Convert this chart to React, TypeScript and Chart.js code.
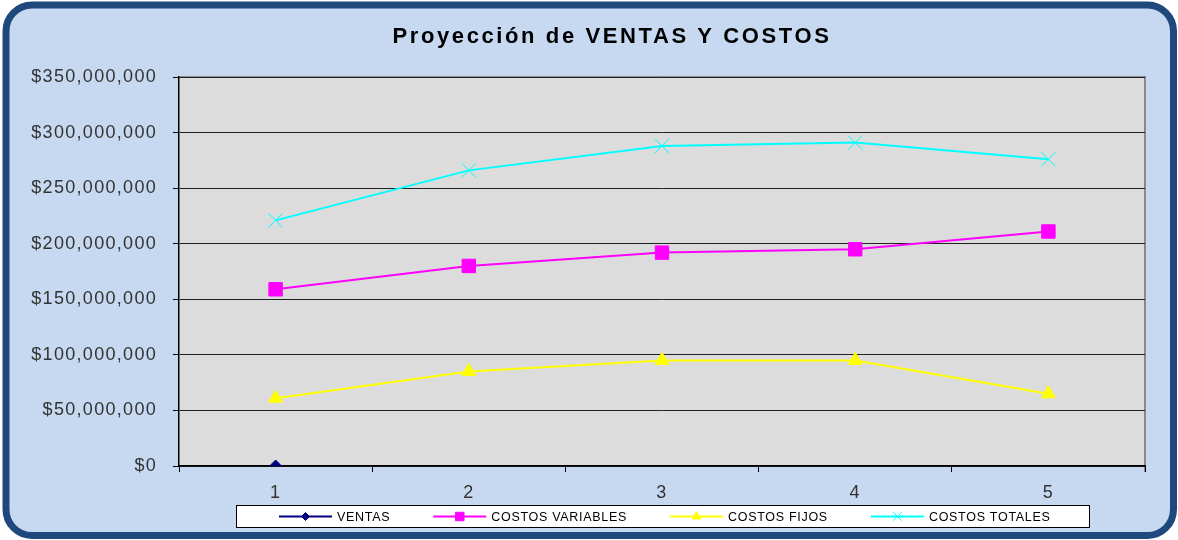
import React, { useEffect, useRef } from "react";
import { Chart, registerables } from "chart.js";
import { drawPoint } from "chart.js/helpers";

Chart.register(...registerables);

const TITLE = "Proyección de VENTAS Y COSTOS";
const CATEGORIES = ["1", "2", "3", "4", "5"];
const VENTAS = [0, null, null, null, null];
const COSTOS_VARIABLES = [159000000, 180000000, 192000000, 195000000, 211000000];
const COSTOS_FIJOS = [61000000, 85000000, 95000000, 95000000, 65000000];
const COSTOS_TOTALES = [221000000, 266000000, 288000000, 291000000, 276000000];
const Y_MIN = 0;
const Y_MAX = 350000000;
const Y_STEP = 50000000;

const FONT = '"Liberation Sans", Arial, sans-serif';

const framePlugin = {
  id: "frame",
  beforeDraw(chart: any) {
    const ctx = chart.ctx;
    const W = chart.width;
    const H = chart.height;
    ctx.save();
    ctx.fillStyle = "#ffffff";
    ctx.fillRect(0, 0, W, H);
    const l = 6, t = 5, r = W - 4.5, b = H - 4.5, rad = 26;
    ctx.beginPath();
    ctx.moveTo(l + rad, t);
    ctx.lineTo(r - rad, t);
    ctx.arcTo(r, t, r, t + rad, rad);
    ctx.lineTo(r, b - rad);
    ctx.arcTo(r, b, r - rad, b, rad);
    ctx.lineTo(l + rad, b);
    ctx.arcTo(l, b, l, b - rad, rad);
    ctx.lineTo(l, t + rad);
    ctx.arcTo(l, t, l + rad, t, rad);
    ctx.closePath();
    ctx.fillStyle = "#C6D9F0";
    ctx.fill();
    ctx.lineWidth = 7;
    ctx.strokeStyle = "#1F497D";
    ctx.stroke();

    // plot area
    const a = chart.chartArea;
    ctx.fillStyle = "#DCDCDC";
    ctx.fillRect(a.left, a.top, a.right - a.left, a.bottom - a.top);
    ctx.strokeStyle = "#8A8A8A";
    ctx.lineWidth = 2;
    ctx.beginPath();
    ctx.moveTo(a.left, a.top);
    ctx.lineTo(a.right, a.top);
    ctx.lineTo(a.right, a.bottom + 6);
    ctx.stroke();

    // title
    ctx.fillStyle = "#000000";
    ctx.font = `bold 22px ${FONT}`;
    ctx.letterSpacing = "2.6px";
    ctx.textAlign = "center";
    ctx.textBaseline = "middle";
    ctx.fillText(TITLE, 612, 37);
    ctx.restore();
    // wider spacing for the axis tick labels, like the reference rendering
    ctx.letterSpacing = "1.3px";
  },
  afterDraw(chart: any) {
    const ctx = chart.ctx;
    ctx.letterSpacing = "0px";
    ctx.save();
    const boxL = 236.5, boxT = 505.5, boxW = 853, boxH = 22;
    ctx.fillStyle = "#ffffff";
    ctx.fillRect(boxL, boxT, boxW, boxH);
    ctx.strokeStyle = "#000000";
    ctx.lineWidth = 1;
    ctx.strokeRect(boxL, boxT, boxW, boxH);
    ctx.font = `12.5px ${FONT}`;
    ctx.letterSpacing = "0.7px";
    ctx.textBaseline = "middle";
    ctx.textAlign = "left";
    const cy = boxT + boxH / 2;
    const lineLen = 53;
    const gapText = 5;
    const gapItem = 43;
    let x = boxL + 42.5;
    chart.data.datasets.forEach((ds: any) => {
      ctx.strokeStyle = ds.borderColor;
      ctx.lineWidth = 2;
      ctx.beginPath();
      ctx.moveTo(x, cy);
      ctx.lineTo(x + lineLen, cy);
      ctx.stroke();
      ctx.fillStyle = ds.pointBackgroundColor;
      ctx.strokeStyle = ds.pointBorderColor;
      ctx.lineWidth = 1;
      drawPoint(
        ctx,
        { pointStyle: ds.pointStyle, radius: ds.legendRadius, borderWidth: 1, rotation: 0 },
        x + lineLen / 2,
        cy
      );
      ctx.fillStyle = "#000000";
      const w = ctx.measureText(ds.label).width;
      ctx.fillText(ds.label, x + lineLen + gapText, cy + 1);
      x += lineLen + gapText + w + gapItem;
    });
    ctx.restore();
  },
};

export default function App() {
  const ref = useRef<HTMLCanvasElement | null>(null);
  useEffect(() => {
    document.body.style.margin = "0";
    const canvas = ref.current!;
    const mk = (label: string, data: any[], color: string, style: string, radius: number, legendRadius: number) => ({
      label,
      data,
      borderColor: color,
      backgroundColor: color,
      pointBackgroundColor: color,
      pointBorderColor: color,
      pointStyle: style,
      pointRadius: radius,
      pointBorderWidth: 1,
      borderWidth: 2,
      legendRadius,
      tension: 0,
      spanGaps: false,
    });
    const chart = new Chart(canvas, {
      type: "line",
      data: {
        labels: CATEGORIES,
        datasets: [
          mk("VENTAS", VENTAS, "#000080", "rectRot", 6, 4),
          mk("COSTOS VARIABLES", COSTOS_VARIABLES, "#FF00FF", "rect", 9.5, 6),
          mk("COSTOS FIJOS", COSTOS_FIJOS, "#FFFF00", "triangle", 8, 5),
          mk("COSTOS TOTALES", COSTOS_TOTALES, "#00FFFF", "crossRot", 10, 6),
        ] as any,
      },
      options: {
        animation: false,
        responsive: false,
        layout: { padding: { left: 0, top: 77, right: 33, bottom: 34 } },
        plugins: { legend: { display: false }, title: { display: false }, tooltip: { enabled: false } },
        scales: {
          x: {
            offset: true,
            grid: { offset: true, drawOnChartArea: false, drawTicks: true, tickLength: 6, color: "#000", tickColor: "#000" },
            border: { display: true, color: "#000", width: 1.5 },
            ticks: { color: "#333", font: { family: FONT, size: 18 }, padding: 10 },
            afterFit: (s: any) => { s.height = 40; },
          },
          y: {
            min: Y_MIN,
            max: Y_MAX,
            ticks: {
              stepSize: Y_STEP,
              color: "#333",
              font: { family: FONT, size: 18 },
              padding: 16,
              callback: (v: any) => "$" + Number(v).toLocaleString("en-US"),
            },
            grid: { color: "#222", lineWidth: 1, tickLength: 6, tickColor: "#000" },
            border: { display: true, color: "#000", width: 1.5 },
            afterFit: (s: any) => { s.width = 179; },
          },
        },
      },
      plugins: [framePlugin],
    });
    return () => chart.destroy();
  }, []);
  return <canvas ref={ref} width={1178} height={540} style={{ display: "block" }} />;
}
